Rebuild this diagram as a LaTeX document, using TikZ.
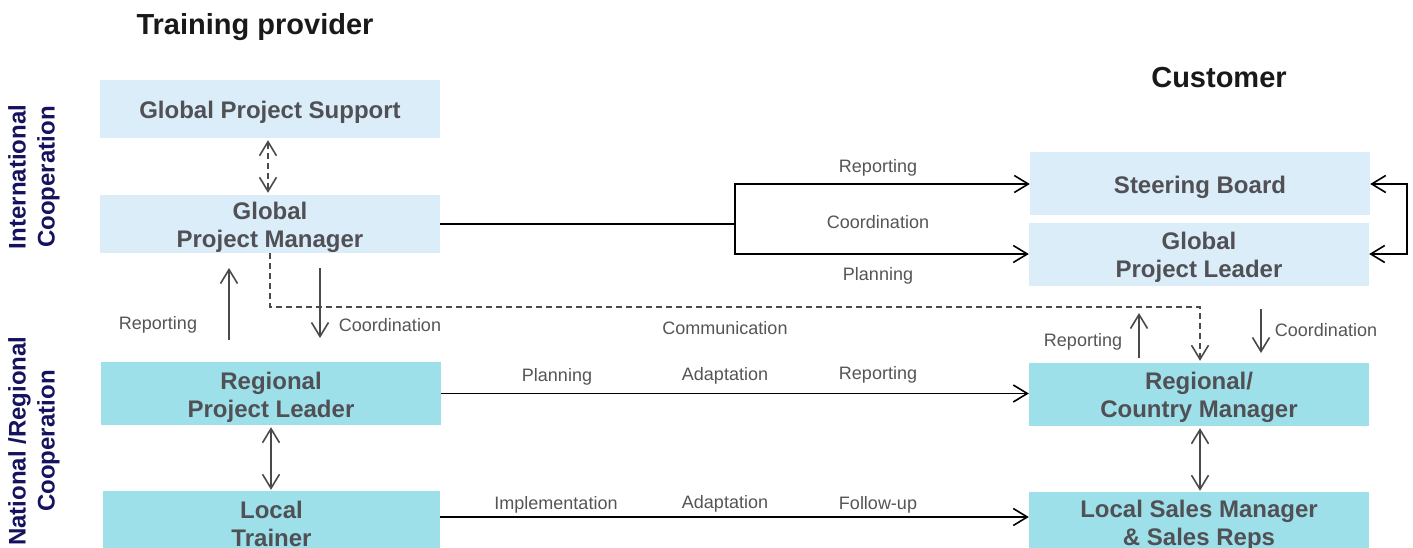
\documentclass[tikz,border=0pt]{standalone}
\usepackage{fontspec}
\setmainfont{Liberation Sans}
\usetikzlibrary{arrows.meta}
\definecolor{topbox}{HTML}{DAEDF9}
\definecolor{botbox}{HTML}{9DE0EA}
\definecolor{boxtext}{HTML}{505055}
\definecolor{navy}{HTML}{16135E}
\definecolor{lbl}{HTML}{555555}
\definecolor{conn}{HTML}{4A4A4A}
\tikzset{
  box/.style={rectangle, draw=none, minimum width=340pt, inner sep=0pt, align=center,
    text=boxtext, font=\fontsize{24}{28}\selectfont\bfseries},
  one/.style={text height=24pt},
  two/.style={text height=52pt},
  topb/.style={box, fill=topbox},
  botb/.style={box, fill=botbox},
  lab/.style={inner sep=0pt, text=lbl, font=\fontsize{18}{21}\selectfont},
  side/.style={rotate=90, align=center, inner sep=0pt, text=navy, font=\fontsize{24}{29}\selectfont\bfseries},
  ttl/.style={inner sep=0pt, text=black!90, font=\fontsize{29}{34}\selectfont\bfseries},
  tip/.style={-{Straight Barb[length=14pt,width=17pt,line width=1.6pt]}},
  dtip/.style={{Straight Barb[length=14pt,width=17pt,line width=1.6pt]}-{Straight Barb[length=14pt,width=17pt,line width=1.6pt]}},
  blk/.style={draw=black, line width=1.8pt},
  gry/.style={draw=conn, line width=1.8pt},
  dsh/.style={draw=conn, line width=1.6pt, dash pattern=on 6pt off 4pt}
}
\begin{document}
\begin{tikzpicture}[x=1pt,y=-1pt]
\clip (0,0) rectangle (1413,548);
\fill[white] (0,0) rectangle (1413,548);

% titles
\node[ttl] (t1) at (255,27) {Training provider};
\node[ttl] (t2) at (1219,78) {Customer};

% side labels
\node[side] (s1) at (34,177) {International\\Cooperation};
\node[side] (s2) at (34,441) {National /Regional\\Cooperation};

% left boxes
\node[topb, one, minimum height=58pt] (gps) at (270,109) {Global Project Support};
\node[topb, two, minimum height=58pt] (gpm) at (270,224) {Global\\Project Manager};
\node[botb, two, minimum height=63pt] (rpl) at (271,393.5) {Regional\\Project Leader};
\node[botb, minimum height=66pt, minimum width=337pt] (lt) at (271.5,524) {Local\\Trainer};

% right boxes
\node[topb, one, minimum height=63pt] (sb) at (1200,184) {Steering Board};
\node[topb, two, minimum height=63pt] (gpl) at (1199,254) {Global\\Project Leader};
\node[botb, two, minimum height=63pt] (rcm) at (1199,394.5) {Regional/\\Country Manager};
\node[botb, minimum height=66pt] (lsm) at (1199,525) {Local Sales Manager\\\& Sales Reps};

% GPS <-> GPM dashed
\draw[dsh, dtip, shorten <=2pt, shorten >=2pt] ([xshift=-2pt]gps.south) -- ([xshift=-2pt]gpm.north);

% GPM -> SB / GPL
\coordinate (br) at (735,224);
\draw[blk] (gpm.east) -- (br);
\draw[blk, tip] (br) |- (sb.west);
\draw[blk, tip] (br) |- (gpl.west);
\node[lab] (l1) at (878,168) {Reporting};
\node[lab] (l2) at (878,222) {Coordination};
\node[lab] (l3) at (878,276) {Planning};

% right loop
\coordinate (rl) at (1407,219);
\draw[blk, tip] (rl) |- (sb.east);
\draw[blk, tip] (rl) |- (gpl.east);

% left vertical arrows
\coordinate (ru0) at (229,340);
\coordinate (ru1) at (229,268);
\draw[gry, tip] (ru0) -- (ru1);
\coordinate (cd0) at (320,268);
\coordinate (cd1) at (320,338);
\draw[gry, tip] (cd0) -- (cd1);
\node[lab] (l4) at (158,325) {Reporting};
\node[lab] (l5) at (390,325) {Coordination};

% communication dashed
\coordinate (c1) at (270,307);
\coordinate (c2) at (1200,307);
\draw[dsh, tip, shorten >=2pt] (gpm.south -| c1) -- (c1) -- (c2) -- (rcm.north -| c2);
\node[lab] (l6) at (725,328) {Communication};

% right vertical arrows
\coordinate (rr0) at (1139,358);
\coordinate (rr1) at (1139,313);
\draw[gry, tip] (rr0) -- (rr1);
\coordinate (rc0) at (1261,309);
\coordinate (rc1) at (1261,353);
\draw[gry, tip] (rc0) -- (rc1);
\node[lab] (l7) at (1083,342) {Reporting};
\node[lab] (l8) at (1326,330) {Coordination};

% RPL -> RCM
\draw[blk, tip] (rpl.east) -- (rpl.east -| rcm.west);
\node[lab] (l9) at (557,377) {Planning};
\node[lab] (l10) at (725,376) {Adaptation};
\node[lab] (l11) at (878,375) {Reporting};

% LT -> LSM
\coordinate (yl) at (0,517);
\draw[blk, tip] (lt.east |- yl) -- (lsm.west |- yl);
\node[lab] (l12) at (556,505) {Implementation};
\node[lab] (l13) at (725,504) {Adaptation};
\node[lab] (l14) at (878,505) {Follow-up};

% vertical double arrows
\draw[gry, dtip, shorten <=2pt, shorten >=1pt] (rpl.south) -- (lt.north -| rpl.south);
\draw[gry, dtip, shorten <=2pt, shorten >=1pt] ([xshift=1pt]rcm.south) -- ([xshift=1pt]lsm.north -| rcm.south);
\end{tikzpicture}
\end{document}
